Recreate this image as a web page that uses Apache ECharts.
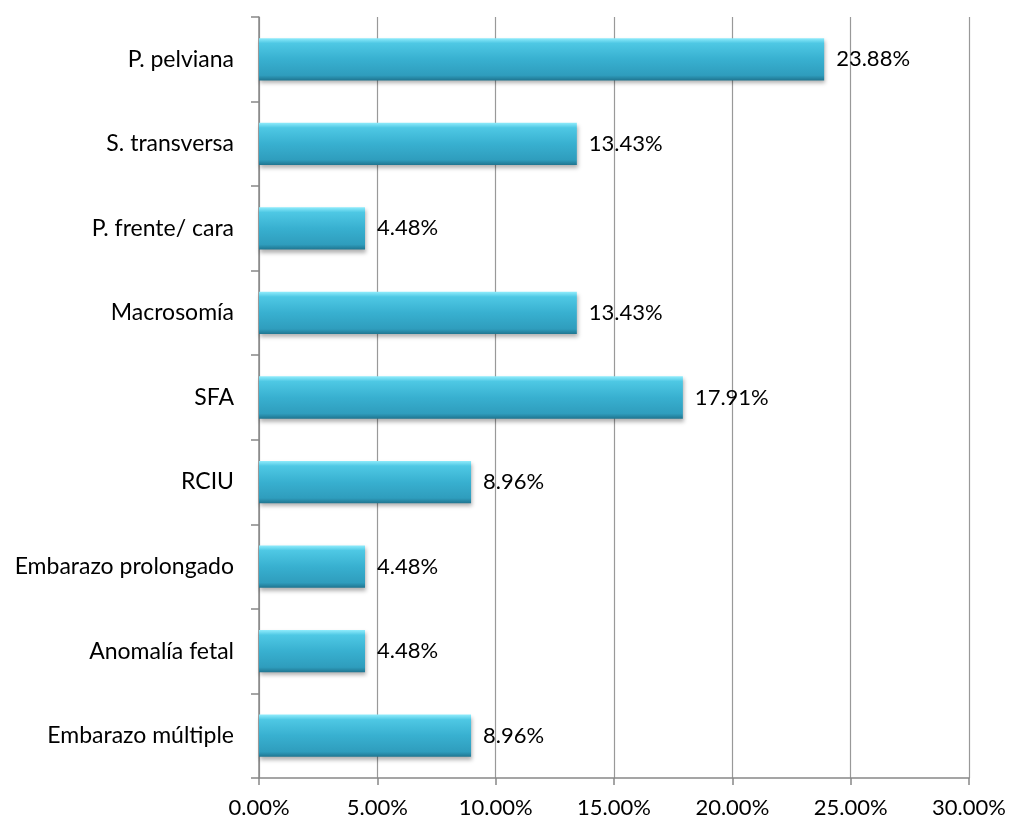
<!DOCTYPE html>
<html>
<head>
<meta charset="utf-8">
<script src="https://cdn.jsdelivr.net/npm/echarts@6/dist/echarts.min.js"></script>
<style>html,body{margin:0;padding:0;background:#fff}#c{width:1009px;height:823px}</style>
</head>
<body>
<div id="c"></div>
<script>
const categories = ["P. pelviana","S. transversa","P. frente/ cara","Macrosomía","SFA","RCIU","Embarazo prolongado","Anomalía fetal","Embarazo múltiple"];
const values = [23.88,13.43,4.48,13.43,17.91,8.96,4.48,4.48,8.96];
const xTicks = [0,5,10,15,20,25,30];

const chart = echarts.init(document.getElementById('c'));
const font = 'Lato, "Open Sans", sans-serif';
chart.setOption({
  animation:false,
  grid:{left:259,right:40,top:17,bottom:45},
  xAxis:{type:'value',min:xTicks[0],max:xTicks[xTicks.length-1],interval:5,
    axisLine:{show:true,lineStyle:{color:'#888',width:1.5}},
    axisTick:{show:true,length:7,lineStyle:{color:'#888',width:1.5}},
    splitLine:{show:true,lineStyle:{color:'#999',width:1.2}},
    axisLabel:{formatter:v=>v.toFixed(2)+'%',color:'#000',fontSize:22,fontFamily:font,margin:19}},
  yAxis:{type:'category',data:categories,inverse:true,
    axisLine:{show:true,lineStyle:{color:'#888',width:1.5}},
    axisTick:{show:true,length:8,lineStyle:{color:'#888',width:1.5}},
    axisLabel:{color:'#000',fontSize:23,fontFamily:font,margin:25}},
  series:[{type:'bar',data:values,barWidth:'50%',
    itemStyle:{
      color:{type:'linear',x:0,y:0,x2:0,y2:1,colorStops:[
        {offset:0,color:'#90ecfc'},{offset:0.12,color:'#4ec8e4'},{offset:0.5,color:'#38b0d0'},{offset:0.88,color:'#2f9dbd'},{offset:1,color:'#1f7590'}]},
      shadowColor:'rgba(0,0,0,0.3)',shadowBlur:4,shadowOffsetY:3,shadowOffsetX:1},
    label:{show:true,position:'right',distance:12,formatter:p=>p.value.toFixed(2)+'%',color:'#000',fontSize:22,fontFamily:font}}]
});
</script>
</body>
</html>
